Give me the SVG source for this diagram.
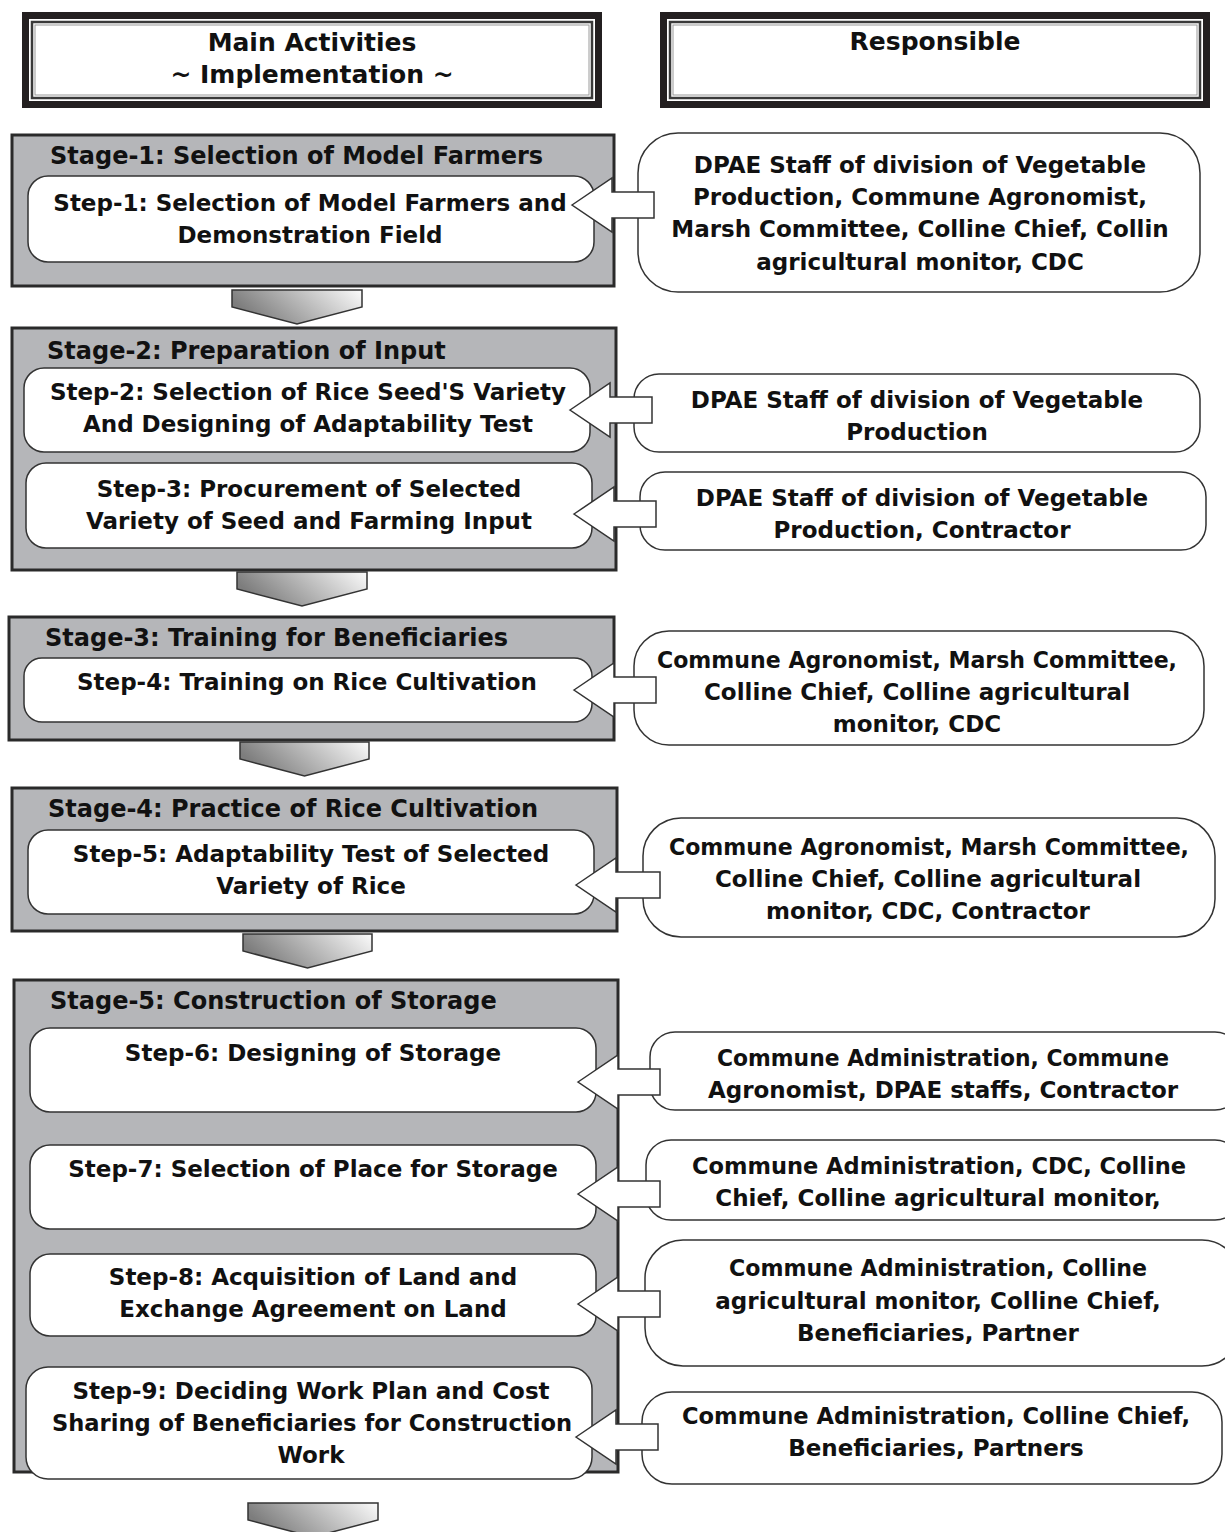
<svg xmlns="http://www.w3.org/2000/svg" width="1225" height="1532" viewBox="0 0 1225 1532">
  <style>
    text { font-family: "DejaVu Sans", "Liberation Sans", sans-serif; font-weight: bold; font-size: 23px; fill: #111; }
    .c { text-anchor: middle; }
    .hdr { font-size: 25px; }
    .ttl { font-size: 24px; }
    .stage { fill: #b5b6b9; stroke: #2a2a2a; stroke-width: 3; }
    .step { fill: #fff; stroke: #333; stroke-width: 1.5; }
    .resp { fill: #fff; stroke: #333; stroke-width: 1.5; }
    .frame { fill: #231f20; }
    .frame-in { fill: #fff; }
    .frame-l1 { fill: none; stroke: #3a3a3a; stroke-width: 2.5; }
    .frame-l2 { fill: none; stroke: #9a9a9a; stroke-width: 1; }
    .larrow { fill: #fff; stroke: #333; stroke-width: 1.5; stroke-linejoin: miter; }
    .darrow { fill: url(#downGrad); stroke: #333; stroke-width: 1.5; }
  </style>
  <defs>
    <linearGradient id="downGrad" x1="0" y1="0.3" x2="1" y2="0">
      <stop offset="0" stop-color="#7d7d7d"/>
      <stop offset="1" stop-color="#fbfbfb"/>
    </linearGradient>
  </defs>

  <rect width="1225" height="1532" fill="#fff"/>

  <!-- Column headers -->
  <g id="header-activities">
    <rect class="frame" x="22" y="12" width="580" height="96"/>
    <rect class="frame-in" x="29" y="19" width="566" height="82"/>
    <rect class="frame-l1" x="32" y="22" width="560" height="76"/>
    <rect class="frame-l2" x="35" y="25" width="554" height="70"/>
    <text class="c hdr" x="312" y="51">Main Activities</text>
    <text class="c hdr" x="312" y="83">~ Implementation ~</text>
  </g>
  <g id="header-responsible">
    <rect class="frame" x="660" y="12" width="550" height="96"/>
    <rect class="frame-in" x="667" y="19" width="536" height="82"/>
    <rect class="frame-l1" x="670" y="22" width="530" height="76"/>
    <rect class="frame-l2" x="673" y="25" width="524" height="70"/>
    <text class="c hdr" x="935" y="50">Responsible</text>
  </g>

  <!-- Stage 1 -->
  <g id="stage-1">
    <rect class="stage" x="12" y="135" width="602" height="151"/>
    <text class="ttl" x="50" y="164">Stage-1: Selection of Model Farmers</text>
  </g>
  <g id="step-1">
    <rect class="step" x="28" y="176" width="566" height="86" rx="20"/>
    <text class="c" x="310" y="211">Step-1: Selection of Model Farmers and</text>
    <text class="c" x="310" y="243">Demonstration Field</text>
  </g>
  <g id="resp-1">
    <rect class="resp" x="638" y="133" width="562" height="159" rx="40"/>
    <text class="c" x="920" y="173">DPAE Staff of division of Vegetable</text>
    <text class="c" x="920" y="205">Production, Commune Agronomist,</text>
    <text class="c" x="920" y="237">Marsh Committee, Colline Chief, Collin</text>
    <text class="c" x="920" y="270">agricultural monitor, CDC</text>
  </g>

  <!-- Stage 2 -->
  <g id="stage-2">
    <rect class="stage" x="12" y="328" width="604" height="242"/>
    <text class="ttl" x="47" y="359">Stage-2: Preparation of Input</text>
  </g>
  <g id="step-2">
    <rect class="step" x="24" y="368" width="566" height="84" rx="20"/>
    <text class="c" x="308" y="400">Step-2: Selection of Rice Seed'S Variety</text>
    <text class="c" x="308" y="432">And Designing of Adaptability Test</text>
  </g>
  <g id="step-3">
    <rect class="step" x="26" y="463" width="566" height="85" rx="20"/>
    <text class="c" x="309" y="497">Step-3: Procurement of Selected</text>
    <text class="c" x="309" y="529">Variety of Seed and Farming Input</text>
  </g>
  <g id="resp-2">
    <rect class="resp" x="634" y="374" width="566" height="78" rx="25"/>
    <text class="c" x="917" y="408">DPAE Staff of division of Vegetable</text>
    <text class="c" x="917" y="440">Production</text>
  </g>
  <g id="resp-3">
    <rect class="resp" x="640" y="472" width="566" height="78" rx="25"/>
    <text class="c" x="922" y="506">DPAE Staff of division of Vegetable</text>
    <text class="c" x="922" y="538">Production, Contractor</text>
  </g>

  <!-- Stage 3 -->
  <g id="stage-3">
    <rect class="stage" x="9" y="617" width="605" height="123"/>
    <text class="ttl" x="45" y="646">Stage-3: Training for Beneficiaries</text>
  </g>
  <g id="step-4">
    <rect class="step" x="24" y="658" width="568" height="64" rx="18"/>
    <text class="c" x="307" y="690">Step-4: Training on Rice Cultivation</text>
  </g>
  <g id="resp-4">
    <rect class="resp" x="634" y="631" width="570" height="114" rx="35"/>
    <text class="c" x="917" y="668" textLength="520" lengthAdjust="spacingAndGlyphs">Commune Agronomist, Marsh Committee,</text>
    <text class="c" x="917" y="700">Colline Chief, Colline agricultural</text>
    <text class="c" x="917" y="732">monitor, CDC</text>
  </g>

  <!-- Stage 4 -->
  <g id="stage-4">
    <rect class="stage" x="12" y="788" width="605" height="143"/>
    <text class="ttl" x="48" y="817">Stage-4: Practice of Rice Cultivation</text>
  </g>
  <g id="step-5">
    <rect class="step" x="28" y="830" width="566" height="84" rx="20"/>
    <text class="c" x="311" y="862">Step-5: Adaptability Test of Selected</text>
    <text class="c" x="311" y="894">Variety of Rice</text>
  </g>
  <g id="resp-5">
    <rect class="resp" x="643" y="818" width="572" height="119" rx="38"/>
    <text class="c" x="929" y="855" textLength="520" lengthAdjust="spacingAndGlyphs">Commune Agronomist, Marsh Committee,</text>
    <text class="c" x="928" y="887">Colline Chief, Colline agricultural</text>
    <text class="c" x="928" y="919">monitor, CDC, Contractor</text>
  </g>

  <!-- Stage 5 -->
  <g id="stage-5">
    <rect class="stage" x="14" y="980" width="604" height="492"/>
    <text class="ttl" x="50" y="1009">Stage-5: Construction of Storage</text>
  </g>
  <g id="step-6">
    <rect class="step" x="30" y="1028" width="566" height="84" rx="20"/>
    <text class="c" x="313" y="1061">Step-6: Designing of Storage</text>
  </g>
  <g id="step-7">
    <rect class="step" x="30" y="1145" width="566" height="84" rx="20"/>
    <text class="c" x="313" y="1177">Step-7: Selection of Place for Storage</text>
  </g>
  <g id="step-8">
    <rect class="step" x="30" y="1254" width="566" height="82" rx="20"/>
    <text class="c" x="313" y="1285">Step-8: Acquisition of Land and</text>
    <text class="c" x="313" y="1317">Exchange Agreement on Land</text>
  </g>
  <g id="step-9">
    <rect class="step" x="26" y="1367" width="566" height="112" rx="22"/>
    <text class="c" x="311" y="1399">Step-9: Deciding Work Plan and Cost</text>
    <text class="c" x="312" y="1431" textLength="520" lengthAdjust="spacingAndGlyphs">Sharing of Beneficiaries for Construction</text>
    <text class="c" x="311" y="1463">Work</text>
  </g>
  <g id="resp-6">
    <rect class="resp" x="650" y="1032" width="590" height="78" rx="25"/>
    <text class="c" x="943" y="1066" textLength="452" lengthAdjust="spacingAndGlyphs">Commune Administration, Commune</text>
    <text class="c" x="943" y="1098">Agronomist, DPAE staffs, Contractor</text>
  </g>
  <g id="resp-7">
    <rect class="resp" x="646" y="1140" width="594" height="80" rx="25"/>
    <text class="c" x="939" y="1174" textLength="494" lengthAdjust="spacingAndGlyphs">Commune Administration, CDC, Colline</text>
    <text class="c" x="938" y="1206">Chief, Colline agricultural monitor,</text>
  </g>
  <g id="resp-8">
    <rect class="resp" x="645" y="1240" width="595" height="126" rx="38"/>
    <text class="c" x="938" y="1276" textLength="418" lengthAdjust="spacingAndGlyphs">Commune Administration, Colline</text>
    <text class="c" x="938" y="1309">agricultural monitor, Colline Chief,</text>
    <text class="c" x="938" y="1341">Beneficiaries, Partner</text>
  </g>
  <g id="resp-9">
    <rect class="resp" x="642" y="1392" width="580" height="92" rx="30"/>
    <text class="c" x="936" y="1424" textLength="508" lengthAdjust="spacingAndGlyphs">Commune Administration, Colline Chief,</text>
    <text class="c" x="936" y="1456">Beneficiaries, Partners</text>
  </g>

  <!-- Connectors: block arrows from responsible parties to steps, and stage-to-stage arrows -->
  <g id="connectors">
    <path class="larrow" d="M572,205 L612,178 L612,192 L654,192 L654,218 L612,218 L612,232 Z"/>
    <path class="larrow" d="M570,410 L610,383 L610,397 L652,397 L652,423 L610,423 L610,437 Z"/>
    <path class="larrow" d="M574,514 L614,487 L614,501 L656,501 L656,527 L614,527 L614,541 Z"/>
    <path class="larrow" d="M574,690 L614,663 L614,677 L656,677 L656,703 L614,703 L614,717 Z"/>
    <path class="larrow" d="M576,885 L616,858 L616,872 L660,872 L660,898 L616,898 L616,912 Z"/>
    <path class="larrow" d="M578,1082 L618,1055 L618,1069 L660,1069 L660,1095 L618,1095 L618,1109 Z"/>
    <path class="larrow" d="M578,1194 L618,1167 L618,1181 L660,1181 L660,1207 L618,1207 L618,1221 Z"/>
    <path class="larrow" d="M578,1304 L618,1277 L618,1291 L660,1291 L660,1317 L618,1317 L618,1331 Z"/>
    <path class="larrow" d="M576,1437 L616,1410 L616,1424 L658,1424 L658,1450 L616,1450 L616,1464 Z"/>

    <path class="darrow" d="M232,290 L362,290 L362,307 L297,324 L232,307 Z"/>
    <path class="darrow" d="M237,572 L367,572 L367,589 L302,606 L237,589 Z"/>
    <path class="darrow" d="M240,742 L369,742 L369,759 L304.5,776 L240,759 Z"/>
    <path class="darrow" d="M243,934 L372,934 L372,951 L307.5,968 L243,951 Z"/>
    <path class="darrow" d="M248,1503 L378,1503 L378,1520 L313,1537 L248,1520 Z"/>
  </g>
</svg>
